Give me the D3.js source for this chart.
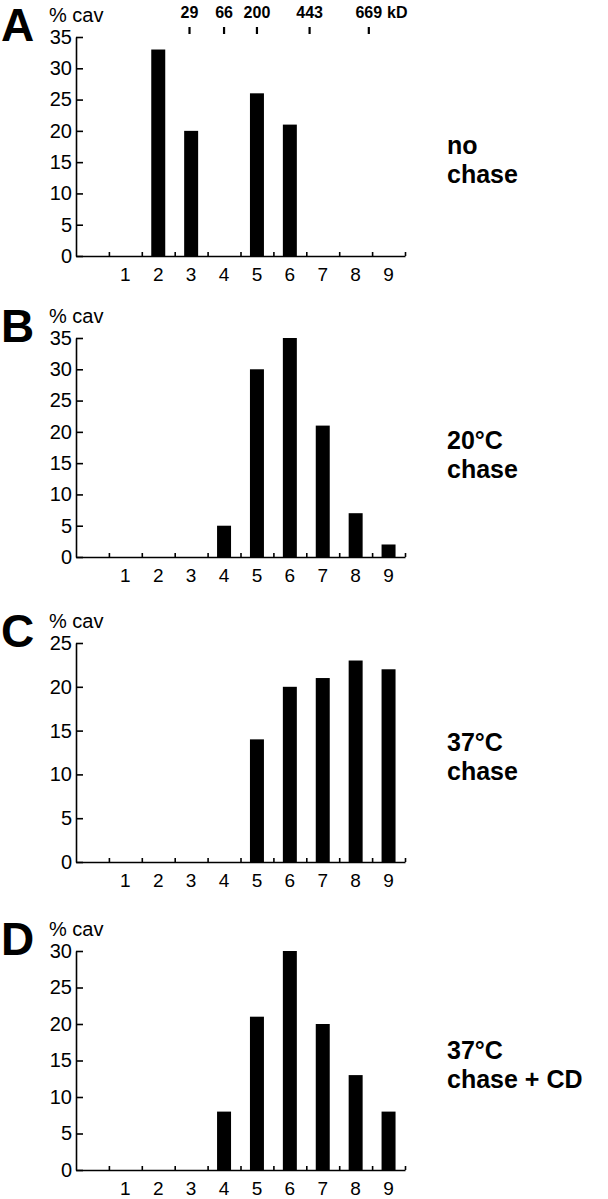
<!DOCTYPE html>
<html>
<head>
<meta charset="utf-8">
<script src="https://cdn.jsdelivr.net/npm/d3@7"></script>
<style>
  body { margin: 0; background: #fff; }
  svg { display: block; font-family: "Liberation Sans", Arial, Helvetica, sans-serif; }
</style>
</head>
<body>
<svg id="chart" width="608" height="1199"></svg>
<script>
// fractions along the x axis (band 0 is left empty)
const fractions = [1, 2, 3, 4, 5, 6, 7, 8, 9];

// % cav per fraction, one array per panel
const noChase = [0, 33, 20, 0, 26, 21, 0, 0, 0];
const chase20 = [0, 0, 0, 5, 30, 35, 21, 7, 2];
const chase37 = [0, 0, 0, 0, 14, 20, 21, 23, 22];
const chase37CD = [0, 0, 0, 8, 21, 30, 20, 13, 8];

const panelLetters = ["A", "B", "C", "D"];
const panelMax = [35, 35, 25, 30];
const panelNotes = [["no", "chase"], ["20°C", "chase"], ["37°C", "chase"], ["37°C", "chase + CD"]];

// size markers (kD) and their position in fraction units
const markerLabels = ["29", "66", "200", "443", "669"];
const markerFraction = [2.95, 4, 5, 6.6, 8.4];

const svg = d3.select("#chart");
const left = 76, right = 405, plotH = 219;
const tops = [37, 338, 643, 951];
const noteY = [154, 449, 751, 1059];
const allSeries = [noChase, chase20, chase37, chase37CD];

const xBand = d3.scaleBand()
    .domain(d3.range(0, 10))
    .range([left, right])
    .paddingInner(0.575)
    .paddingOuter(0.2875);

const xLin = d3.scaleLinear().domain([0, 10]).range([left, right]);

allSeries.forEach(function (values, i) {
    const top = tops[i];
    const g = svg.append("g");

    const y = d3.scaleLinear().domain([0, panelMax[i]]).range([top + plotH, top]);

    // bars
    g.selectAll("rect")
        .data(values)
        .enter()
        .append("rect")
        .attr("x", function (d, j) { return xBand(fractions[j]); })
        .attr("y", function (d) { return y(d); })
        .attr("width", xBand.bandwidth())
        .attr("height", function (d) { return y(0) - y(d); })
        .attr("fill", "#000");

    // y axis, ticks pointing inward
    const yAxis = g.append("g")
        .attr("transform", "translate(" + left + ",0)")
        .call(d3.axisLeft(y)
            .tickValues(d3.range(0, panelMax[i] + 1, 5))
            .tickSize(-7)
            .tickSizeOuter(0)
            .tickPadding(4));

    // x axis tick marks between fractions
    const xAxis = g.append("g")
        .attr("transform", "translate(0," + (top + plotH) + ")")
        .call(d3.axisBottom(xLin)
            .tickValues(d3.range(1, 11))
            .tickSize(-4)
            .tickSizeOuter(0)
            .tickFormat(""));

    // fraction numbers under each band
    const xLabels = g.append("g")
        .attr("transform", "translate(0," + (top + plotH) + ")")
        .call(d3.axisBottom(xBand)
            .tickValues(fractions)
            .tickSize(0)
            .tickPadding(12));
    xLabels.select(".domain").remove();

    [yAxis, xAxis, xLabels].forEach(function (a) {
        a.selectAll("path, line").attr("stroke", "#000").attr("stroke-width", 1.6);
        a.selectAll("text").attr("font-size", 20).attr("fill", "#000")
            .attr("font-family", "Liberation Sans, Arial, sans-serif");
    });
    xLabels.selectAll("text").attr("font-size", 19);

    // panel letter and axis title
    g.append("text")
        .attr("x", 1).attr("y", top + 4)
        .attr("font-size", 46).attr("font-weight", "bold")
        .text(panelLetters[i]);

    g.append("text")
        .attr("x", 49).attr("y", top - 15)
        .attr("font-size", 20)
        .text("% cav");

    // condition note on the right
    g.append("text")
        .attr("x", 447).attr("y", noteY[i])
        .attr("font-size", 25).attr("font-weight", "bold")
        .selectAll("tspan")
        .data(panelNotes[i])
        .enter()
        .append("tspan")
        .attr("x", 447)
        .attr("dy", function (d, k) { return k === 0 ? 0 : 29; })
        .text(function (d) { return d; });
});

// molecular weight markers over panel A
const mk = svg.append("g");
mk.selectAll("line")
    .data(markerFraction)
    .enter()
    .append("line")
    .attr("x1", function (d) { return xLin(d + 0.5); })
    .attr("x2", function (d) { return xLin(d + 0.5); })
    .attr("y1", 27).attr("y2", 34)
    .attr("stroke", "#000").attr("stroke-width", 2.2);

mk.selectAll("text")
    .data(markerFraction)
    .enter()
    .append("text")
    .attr("x", function (d) { return xLin(d + 0.5); })
    .attr("y", 18)
    .attr("text-anchor", "middle")
    .attr("font-size", 16).attr("font-weight", "bold")
    .text(function (d, k) { return markerLabels[k]; });

mk.append("text")
    .attr("x", 387).attr("y", 18)
    .attr("font-size", 16).attr("font-weight", "bold")
    .text("kD");
</script>
</body>
</html>
